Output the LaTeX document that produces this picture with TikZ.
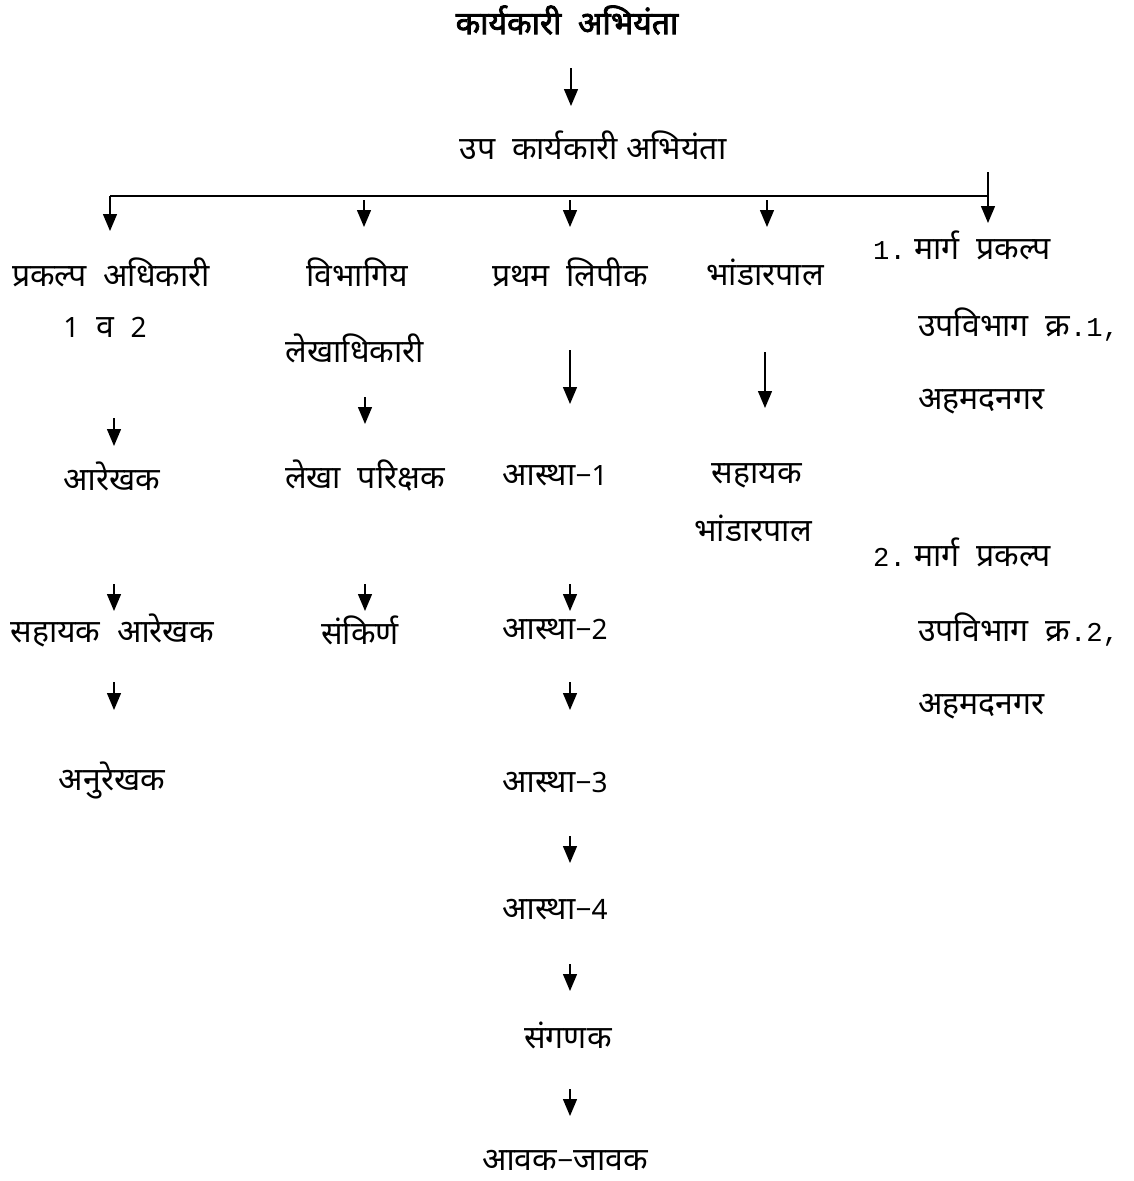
\documentclass[tikz,border=0pt]{standalone}
\usepackage{fontspec}
\setmainfont[Script=Devanagari]{Noto Sans}
\newfontfamily\boldf[Script=Devanagari,FakeBold=2.5]{Noto Sans}
\newfontfamily\monof[Scale=0.85]{Liberation Mono}
\usetikzlibrary{arrows.meta}
\tikzset{
  lbl/.style={inner sep=0pt, font=\fontsize{32}{36}\selectfont},
  lw/.style={lbl, anchor=west},
  arr/.style={line width=1.4pt, -{Triangle[width=14pt,length=17pt]}},
  hline/.style={line width=1.4pt}
}
\newcommand{\dg}[1]{{\monof #1}}
\newcommand{\sm}[1]{{\fontsize{28}{32}\selectfont #1}}
\begin{document}
\begin{tikzpicture}[x=1pt,y={(0pt,-1pt)}]
\useasboundingbox (0,0) rectangle (1133,1181);
% titles
\node[lbl,font=\fontsize{32}{36}\boldf] (ee) at (567,20) {कार्यकारी\ \ अभियंता};
\node[lbl] (dee) at (593,145) {उप\ \ कार्यकारी अभियंता};
% top arrow
\coordinate (t1) at (571,68); \coordinate (t2) at (571,106);
\draw[arr] (t1) -- (t2);
% horizontal bar
\coordinate (hL) at (110,196); \coordinate (hR) at (988,196);
\coordinate (rTop) at (988,172); \coordinate (rEnd) at (988,223);
\draw[hline] (hL) -- (hR);
\draw[arr] (rTop) -- (rEnd);
\coordinate (c1e) at (110,231);
\draw[arr] (hL) -- (c1e);
\coordinate (c2s) at (364,200); \coordinate (c2e) at (364,227);
\coordinate (c3s) at (570,200); \coordinate (c3e) at (570,227);
\coordinate (c4s) at (767,200); \coordinate (c4e) at (767,227);
\draw[arr] (c2s) -- (c2e);
\draw[arr] (c3s) -- (c3e);
\draw[arr] (c4s) -- (c4e);
% column 1
\node[lbl] (po) at (111,272) {प्रकल्प\ \ अधिकारी};
\node[lbl] (po2) at (105,327) {\sm{1}\ \ व\ \ \sm{2}};
\node[lbl] (ar) at (112,476) {आरेखक};
\node[lbl] (sar) at (112,630) {सहायक\ \ आरेखक};
\node[lbl] (anu) at (112,780) {अनुरेखक};
\coordinate (a1s) at (114,418); \coordinate (a1e) at (114,446);
\coordinate (a2s) at (114,584); \coordinate (a2e) at (114,611);
\coordinate (a3s) at (114,682); \coordinate (a3e) at (114,710);
\draw[arr] (a1s) -- (a1e);
\draw[arr] (a2s) -- (a2e);
\draw[arr] (a3s) -- (a3e);
% column 2
\node[lbl] (vi) at (357,272) {विभागिय};
\node[lbl] (le) at (355,348) {लेखाधिकारी};
\node[lbl] (lp) at (365,476) {लेखा\ \ परिक्षक};
\node[lbl] (sk) at (360,630) {संकिर्ण};
\coordinate (b1s) at (365,397); \coordinate (b1e) at (365,424);
\coordinate (b2s) at (365,584); \coordinate (b2e) at (365,611);
\draw[arr] (b1s) -- (b1e);
\draw[arr] (b2s) -- (b2e);
% column 3
\node[lbl] (pl) at (570,272) {प्रथम\ \ लिपीक};
\node[lbl] (as1) at (555,476) {आस्था\sm{−1}};
\node[lbl] (as2) at (555,630) {आस्था\sm{−2}};
\node[lbl] (as3) at (555,783) {आस्था\sm{−3}};
\node[lbl] (as4) at (555,910) {आस्था\sm{−4}};
\node[lbl] (sg) at (568,1035) {संगणक};
\node[lbl] (aj) at (565,1160) {आवक\sm{−}जावक};
\coordinate (d1s) at (570,350); \coordinate (d1e) at (570,404);
\coordinate (d2s) at (570,584); \coordinate (d2e) at (570,611);
\coordinate (d3s) at (570,682); \coordinate (d3e) at (570,710);
\coordinate (d4s) at (570,836); \coordinate (d4e) at (570,863);
\coordinate (d5s) at (570,964); \coordinate (d5e) at (570,991);
\coordinate (d6s) at (570,1089); \coordinate (d6e) at (570,1116);
\foreach \i in {1,...,6} {\draw[arr] (d\i s) -- (d\i e);}
% column 4
\node[lbl] (bp) at (765,272) {भांडारपाल};
\node[lbl] (sh) at (757,476) {सहायक};
\node[lbl] (sbp) at (753,528) {भांडारपाल};
\coordinate (e1s) at (765,352); \coordinate (e1e) at (765,408);
\draw[arr] (e1s) -- (e1e);
% column 5
\node[lw] (m1) at (873,245) {\dg{1.}\ मार्ग\ \ प्रकल्प};
\node[lw] (u1) at (918,325) {उपविभाग\ \ क्र\dg{.1,}};
\node[lw] (n1) at (918,402) {अहमदनगर};
\node[lw] (m2) at (873,552) {\dg{2.}\ मार्ग\ \ प्रकल्प};
\node[lw] (u2) at (918,630) {उपविभाग\ \ क्र\dg{.2,}};
\node[lw] (n2) at (918,707) {अहमदनगर};
\end{tikzpicture}
\end{document}
